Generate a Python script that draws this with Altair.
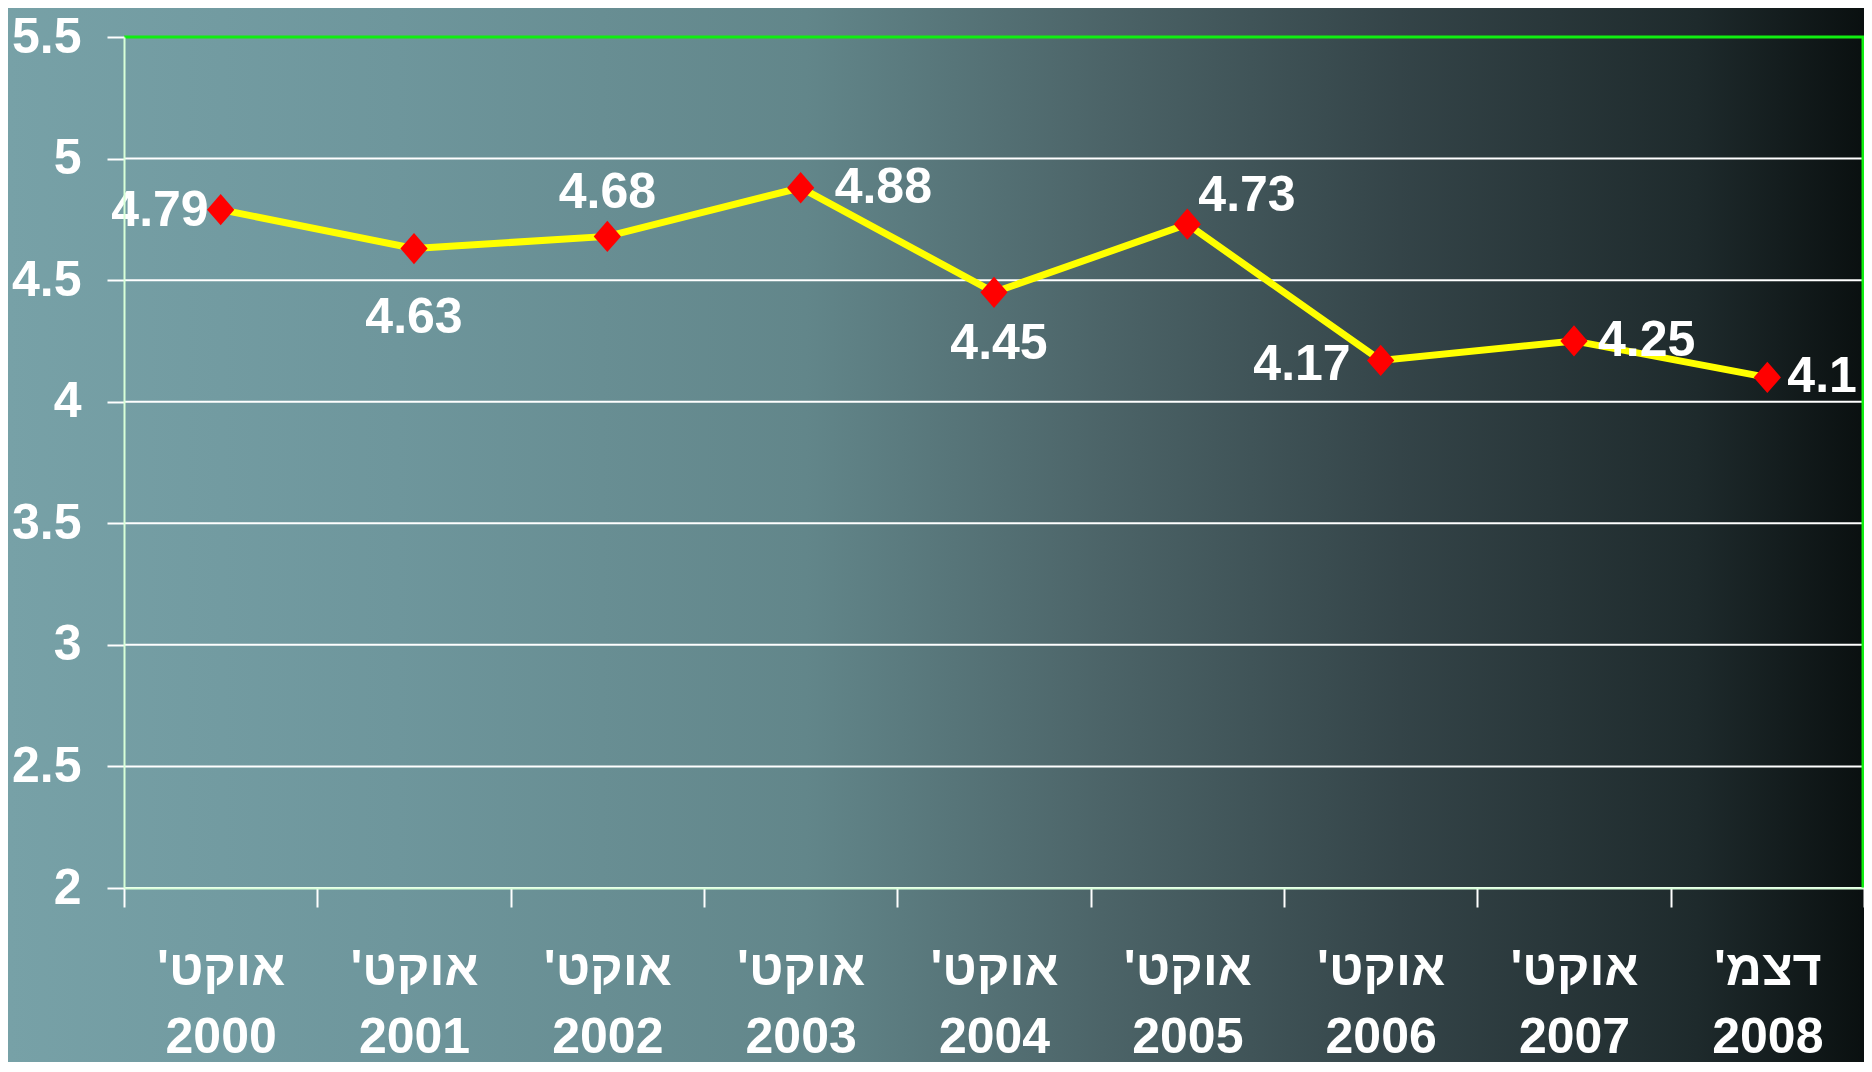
import altair as alt
import pandas as pd

months = ["אוקט'", "אוקט'", "אוקט'", "אוקט'", "אוקט'", "אוקט'", "אוקט'", "אוקט'", "דצמ'"]
years = ["2000", "2001", "2002", "2003", "2004", "2005", "2006", "2007", "2008"]
values = [4.79, 4.63, 4.68, 4.88, 4.45, 4.73, 4.17, 4.25, 4.1]
y_ticks = [2, 2.5, 3, 3.5, 4, 4.5, 5, 5.5]

RLM = "\u200f"
labels = [m + RLM + "|" + y for m, y in zip(months, years)]
df = pd.DataFrame({"period": labels, "value": values, "txt": [f"{v:g}" for v in values]})
grid_df = pd.DataFrame({"value": y_ticks})

W, H = 1740, 851
PAD_L, PAD_T, PAD_R, PAD_B = 116, 29, 0, 174
FONT = "Liberation Sans, Arial, Helvetica, sans-serif"
FS = 50

x_enc = alt.X(
    "period:N", sort=labels, title=None,
    scale=alt.Scale(type="band", paddingInner=0, paddingOuter=0),
    axis=alt.Axis(
        tickBand="extent", tickSize=19, tickColor="white", tickWidth=2,
        domainColor="#d8ffd8", domainWidth=2,
        labelExpr="split(datum.label, '|')", labelAngle=0,
        labelFont=FONT, labelFontSize=FS, labelFontWeight="bold", labelColor="white",
        labelPadding=37, labelLineHeight=68, labelBaseline="top",
        grid=False, zindex=1,
    ),
)
y_scale = alt.Scale(domain=[2, 5.5], nice=False, zero=False)
y_enc = alt.Y(
    "value:Q", title=None, scale=y_scale,
    axis=alt.Axis(
        values=y_ticks, format="~g", tickSize=17, tickColor="white", tickWidth=2,
        domainColor="#d8ffd8", domainWidth=2, grid=False,
        labelFont=FONT, labelFontSize=FS, labelFontWeight="bold", labelColor="white",
        labelPadding=26, zindex=1,
    ),
)

bg = alt.Chart(alt.Data(values=[{"a": 1}])).mark_rect(
    fill=alt.Gradient(
        gradient="linear", x1=0, x2=1, y1=0, y2=0,
        stops=[
            alt.GradientStop(offset=0.0, color="#77a1a7"),
            alt.GradientStop(offset=0.21, color="#6e969c"),
            alt.GradientStop(offset=0.43, color="#62868a"),
            alt.GradientStop(offset=0.59, color="#4c6468"),
            alt.GradientStop(offset=0.75, color="#344448"),
            alt.GradientStop(offset=0.91, color="#1e2a2c"),
            alt.GradientStop(offset=1.0, color="#0a1010"),
        ],
    ),
).encode(
    x=alt.value(-PAD_L), x2=alt.value(W + PAD_R),
    y=alt.value(-PAD_T), y2=alt.value(H + PAD_B),
)

grid = alt.Chart(grid_df).mark_rule().encode(
    y=alt.Y("value:Q", scale=y_scale),
    x=alt.value(0), x2=alt.value(W),
    color=alt.condition("datum.value >= 5.5", alt.value("#11ee11"), alt.value("white")),
    strokeWidth=alt.condition("datum.value >= 5.5", alt.value(3), alt.value(2)),
)
right_border = alt.Chart(alt.Data(values=[{"a": 1}])).mark_rule(
    color="#11ee11", strokeWidth=3
).encode(x=alt.value(W - 1), y=alt.value(0), y2=alt.value(H))

base = alt.Chart(df).encode(x=x_enc, y=y_enc)

line = base.mark_line(color="#ffff00", strokeWidth=7)
pts = base.mark_point(
    shape="M-1,0L0,-1.15L1,0L0,1.15Z", size=740, filled=True, color="#ff0000", opacity=1,
)

placements = [
    ([0], "right", -12, 1),
    ([6], "right", -30, 5),
    ([1], "center", 0, 69),
    ([4], "center", 5, 52),
    ([2], "center", 0, -43),
    ([5], "left", 11, -28),
    ([3], "left", 34, 0),
    ([7], "left", 24, 0),
    ([8], "left", 20, 0),
]
text_layers = []
for idx, align, dx, dy in placements:
    names = [labels[i] for i in idx]
    text_layers.append(
        base.transform_filter(alt.FieldOneOfPredicate(field="period", oneOf=names))
        .mark_text(align=align, baseline="middle", dx=dx, dy=dy, font=FONT,
                   fontSize=FS, fontWeight="bold", color="white")
        .encode(text="txt:N")
    )

chart = alt.layer(bg, grid, right_border, line, pts, *text_layers).properties(
    width=W, height=H,
    autosize=alt.AutoSizeParams(type="none"),
    padding={"left": PAD_L, "top": PAD_T, "right": PAD_R, "bottom": PAD_B},
).configure_view(stroke=None).configure(background="#0a1010")

chart.save("out.html", embed_options={"renderer": "svg", "actions": False})
